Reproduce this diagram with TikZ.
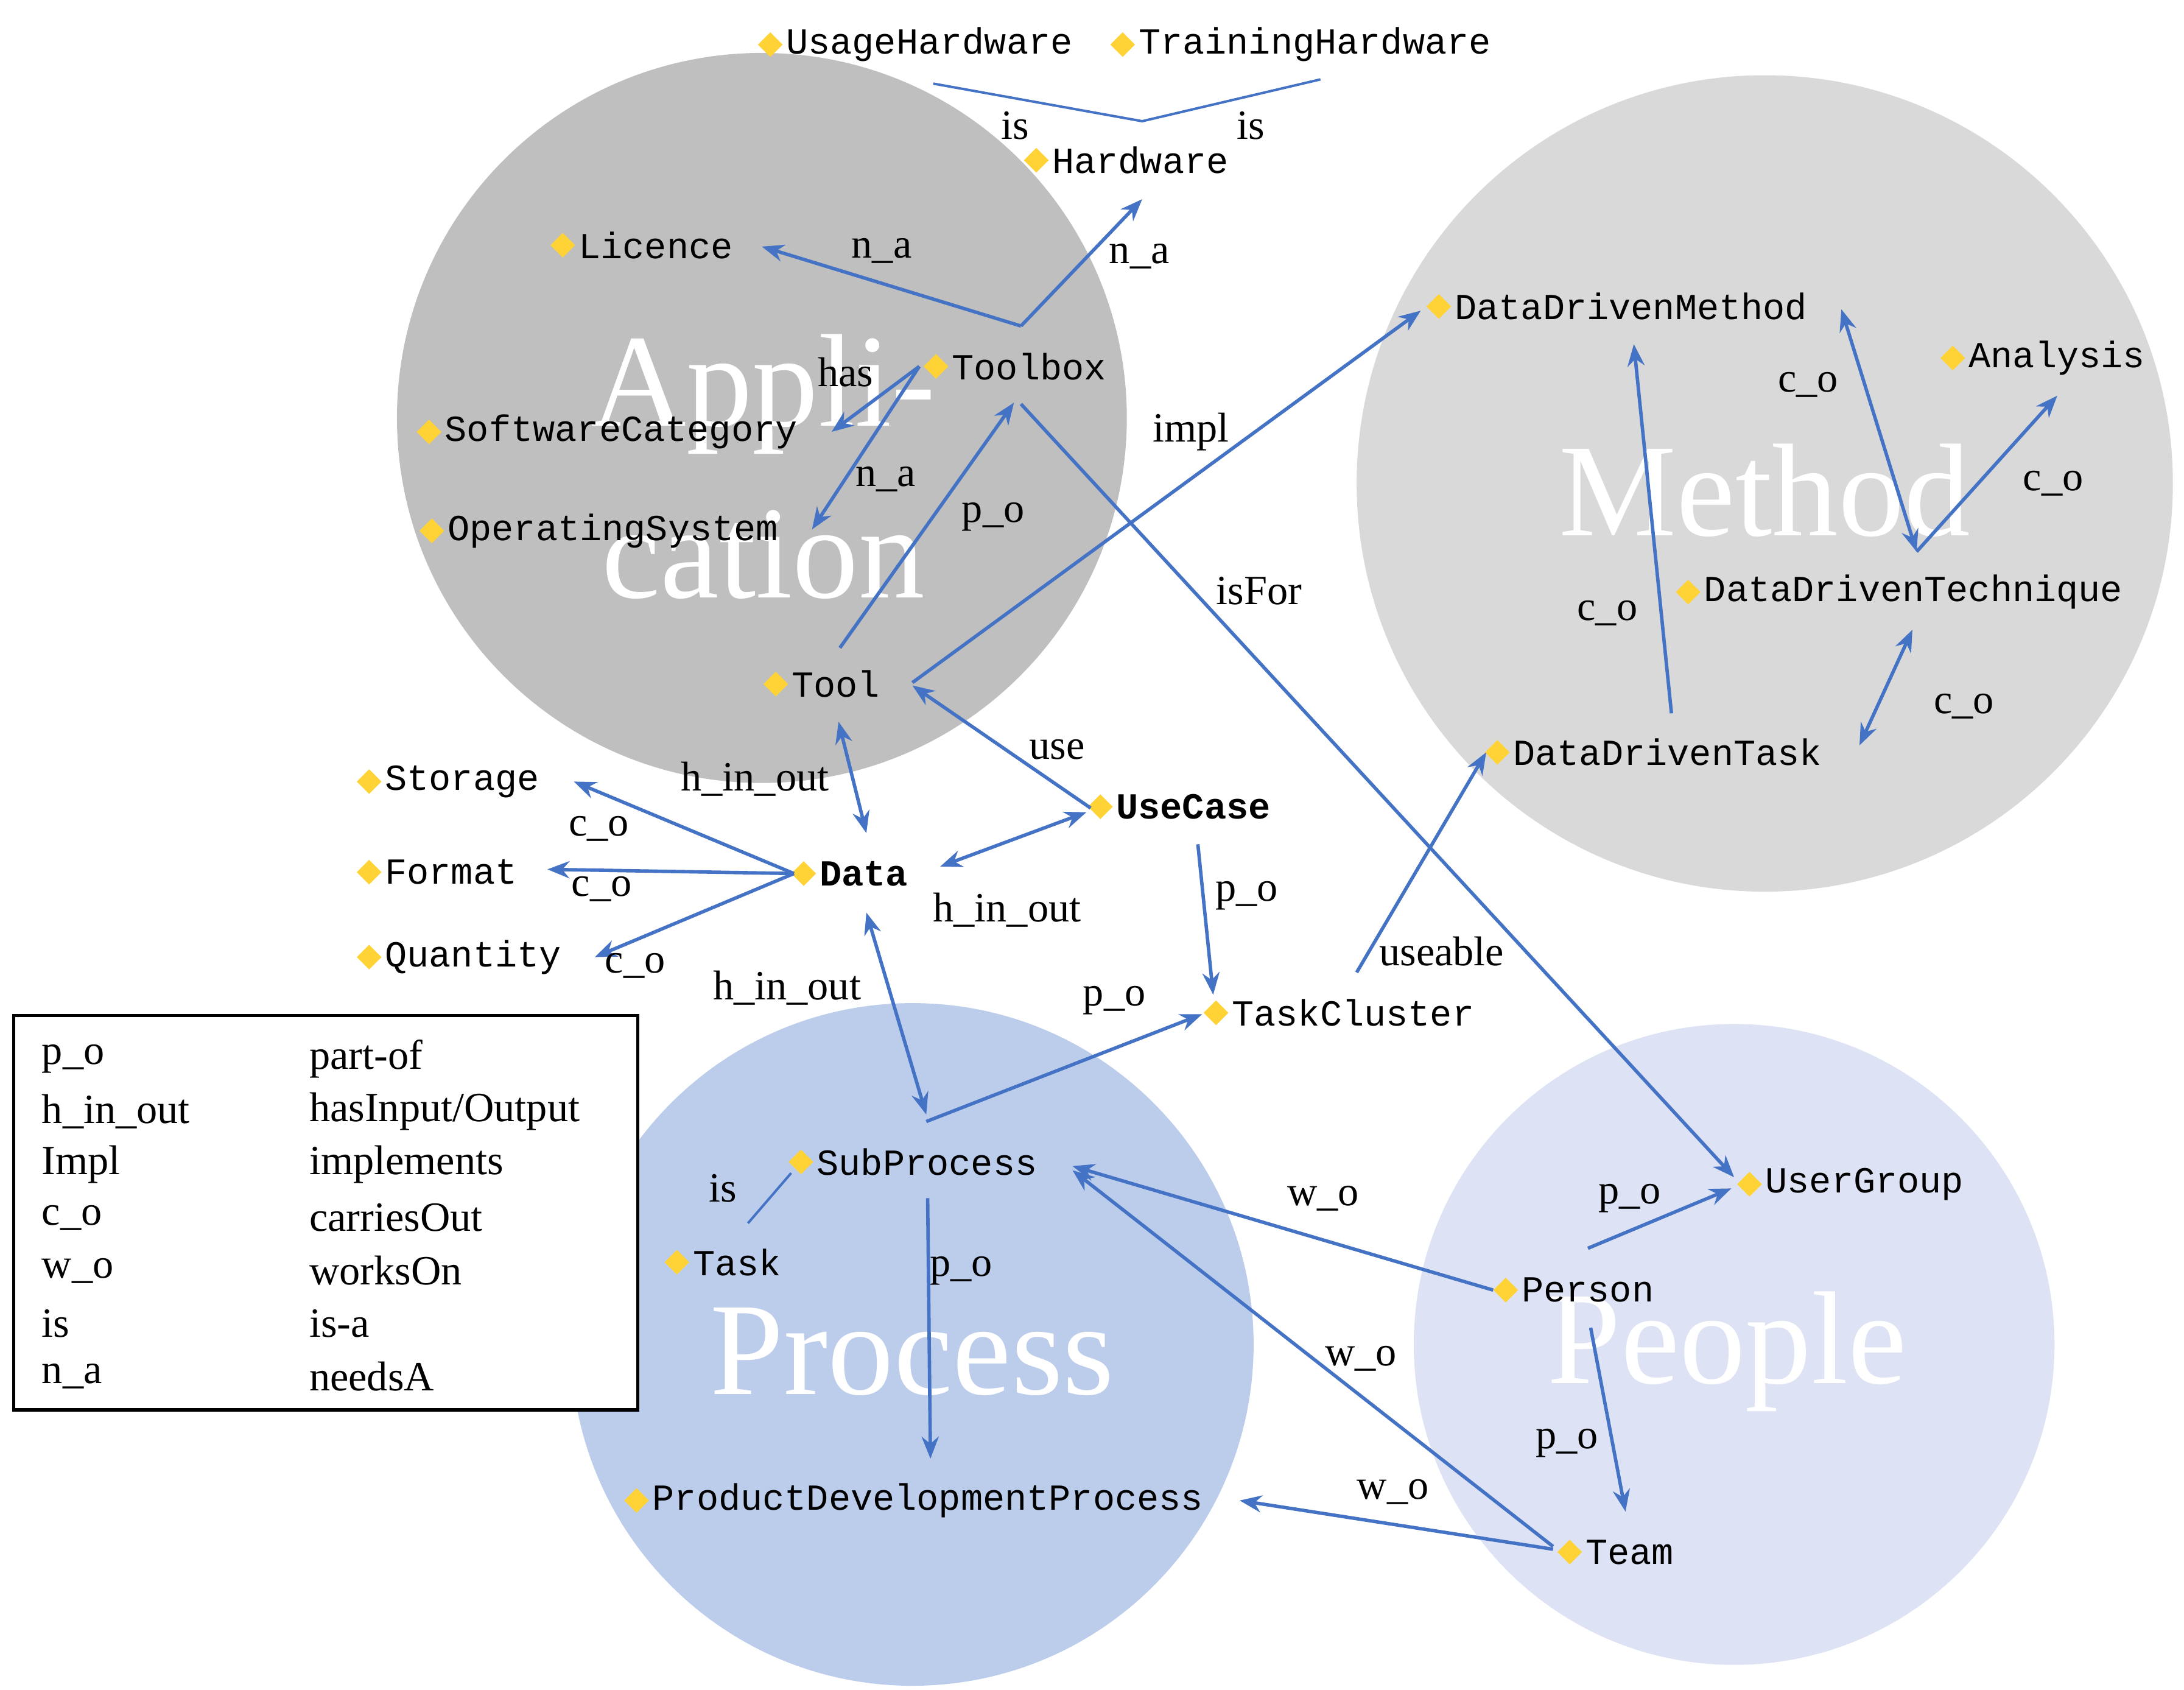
\documentclass[tikz,border=0pt]{standalone}
\usepackage{fontspec}
\setmainfont{Liberation Serif}
\setmonofont{Liberation Mono}
\usetikzlibrary{shapes.geometric,arrows.meta}
\definecolor{eb}{HTML}{4472C4}
\definecolor{dy}{HTML}{FFD236}
\tikzset{
 dia/.style={diamond,fill=dy,inner sep=0pt,minimum size=0.36cm},
 cls/.style={anchor=west,inner sep=1pt,font=\fontsize{15}{15}\ttfamily},
 el/.style={font=\fontsize{17}{17}\selectfont,inner sep=1pt},
 big/.style={text=white,font=\fontsize{54}{70}\selectfont,align=center},
 ed/.style={draw=eb,line width=1.4pt,-{Stealth[length=9pt,width=7pt]}},
 bd/.style={draw=eb,line width=1.4pt,{Stealth[length=9pt,width=7pt]}-{Stealth[length=9pt,width=7pt]}},
 pl/.style={draw=eb,line width=1pt},
}
\begin{document}
\begin{tikzpicture}[x=0.02cm,y=-0.02cm]
\useasboundingbox (0,0) rectangle (1568,1213);
% circles
\fill[color={rgb,255:red,191;green,191;blue,191}] (547,300) circle[radius=262*0.02cm];
\fill[color={rgb,255:red,217;green,217;blue,217}] (1267,347) circle[radius=293*0.02cm];
\fill[color={rgb,255:red,188;green,204;blue,235}] (655,965) circle[radius=245*0.02cm];
\fill[color={rgb,255:red,221;green,227;blue,244}] (1245,965) circle[radius=230*0.02cm];
\node[big] (tApp) at (548,335) {Appli-\\cation};
\node[big] (tMet) at (1267,352) {Method};
\node[big] (tPro) at (655,970) {Process};
\node[big] (tPeo) at (1240,970) {People};
% class nodes
\foreach \n/\x/\y/\t in {
 UH/553/32/UsageHardware, TH/806/32/TrainingHardware, HW/744/115/Hardware,
 Lic/404/176/Licence, TB/672/263/Toolbox, SC/308/310/SoftwareCategory,
 OS/310/381/OperatingSystem, Tool/557/491/Tool, Sto/265/561/Storage,
 For/265/626/Format, Qua/265/687/Quantity, TC/873/727/TaskCluster,
 DDM/1033/220/DataDrivenMethod, Ana/1402/257/Analysis,
 DDT/1212/425/DataDrivenTechnique, DDK/1075/540/DataDrivenTask,
 SP/575/834/SubProcess, Task/486/906/Task, PDP/457/1077/ProductDevelopmentProcess,
 UG/1256/850/UserGroup, Per/1081/926/Person, Team/1127/1114/Team}
 {\node[dia] (d\n) at (\x,\y) {}; \node[cls] (\n) at (d\n.east) {\t};}
\node[dia] (dData) at (577,627) {}; \node[cls,font=\fontsize{15}{15}\ttfamily\bfseries] (Data) at (dData.east) {Data};
\node[dia] (dUC) at (790,579) {}; \node[cls,font=\fontsize{15}{15}\ttfamily\bfseries] (UC) at (dUC.east) {UseCase};
% edges
\draw[pl] (670,60) -- (820,87) -- (948,57);
\node[el] at (729,90) {is}; \node[el] at (898,90) {is};
\draw[ed] (733,234) -- (547,177); \draw[ed] (733,234) -- (820,143);
\node[el] at (633,180) {n\_a}; \node[el] at (818,184) {n\_a};
\draw[ed] (660,263) -- (597,310); \node[el] at (607,267) {has};
\draw[ed] (660,263) -- (583,380); \node[el] at (636,344) {n\_a};
\draw[ed] (603,465) -- (728,289); \node[el] at (713,371) {p\_o};
\draw[ed] (655,490) -- (1020,223); \node[el] at (855,310) {impl};
\draw[ed] (733,290) -- (1245,845); \node[el] at (904,424) {isFor};
\draw[bd] (602,518) -- (622,598); \node[el] at (542,559) {h\_in\_out};
\draw[ed] (783,580) -- (655,492); \node[el] at (759,538) {use};
\draw[bd] (675,622) -- (780,583); \node[el] at (723,653) {h\_in\_out};
\draw[ed] (570,627) -- (412,561); \node[el] at (430,595) {c\_o};
\draw[ed] (570,627) -- (393,624); \node[el] at (432,638) {c\_o};
\draw[ed] (570,627) -- (427,687); \node[el] at (456,693) {c\_o};
\draw[bd] (622,655) -- (665,800); \node[el] at (565,709) {h\_in\_out};
\draw[ed] (665,805) -- (863,728); \node[el] at (800,718) {p\_o};
\draw[ed] (860,606) -- (871,714); \node[el] at (895,643) {p\_o};
\draw[ed] (974,698) -- (1067,540); \node[el] at (1035,683) {useable};
\draw[ed] (1200,512) -- (1173,247); \node[el] at (1154,440) {c\_o};
\draw[bd] (1322,222) -- (1376,396); \node[el] at (1298,276) {c\_o};
\draw[ed] (1376,396) -- (1477,284); \node[el] at (1474,347) {c\_o};
\draw[bd] (1335,535) -- (1373,452); \node[el] at (1410,507) {c\_o};
\draw[pl] (537,878) -- (568,842); \node[el] at (519,853) {is};
\draw[ed] (666,860) -- (668,1047); \node[el] at (690,912) {p\_o};
\draw[ed] (1072,926) -- (770,837); \node[el] at (950,860) {w\_o};
\draw[ed] (1140,896) -- (1243,853); \node[el] at (1170,860) {p\_o};
\draw[ed] (1142,953) -- (1167,1085); \node[el] at (1125,1036) {p\_o};
\draw[ed] (1115,1110) -- (770,840); \node[el] at (977,975) {w\_o};
\draw[ed] (1115,1112) -- (890,1077); \node[el] at (1000,1071) {w\_o};
% legend
\draw[line width=1.3pt,fill=white] (10,729) rectangle (458,1012);
\foreach \i/\a/\b in {0/p\_o/part-of,1/h\_in\_out/hasInput\slash Output,2/Impl/implements,3/c\_o/carriesOut,4/w\_o/worksOn,5/is/is-a,6/n\_a/needsA}{
 \node[el,anchor=west] at (28,760+38*\i) {\a};
 \node[el,anchor=west] at (220,760+38*\i) {\b};}
\end{tikzpicture}
\end{document}
